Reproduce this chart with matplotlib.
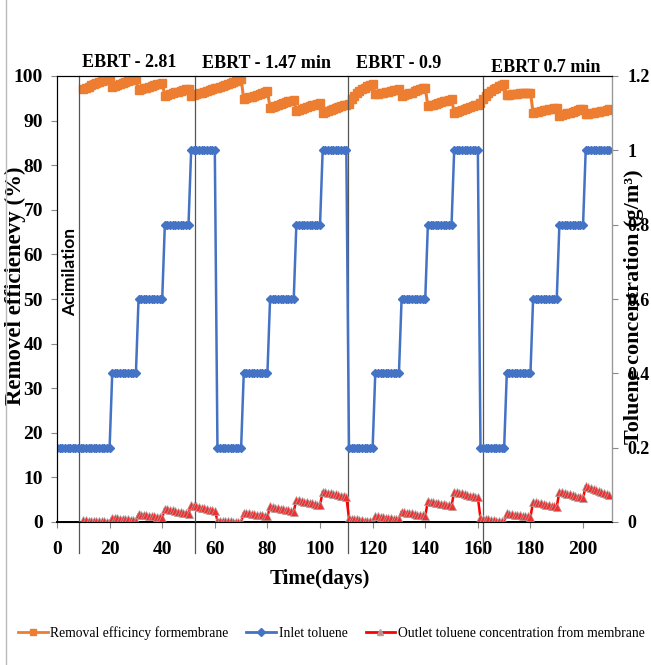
import numpy as np
import matplotlib
matplotlib.use("Agg")
import matplotlib.pyplot as plt
from matplotlib.lines import Line2D

# ---- data ----
# inlet toluene (g/m3), one level per block, days 0-210
inlet_levels = [0.2, 0.4, 0.6, 0.8, 1.0,
                0.2, 0.4, 0.6, 0.8, 1.0,
                0.2, 0.4, 0.6, 0.8, 1.0,
                0.2, 0.4, 0.6, 0.8, 1.0]
inlet_block_days = [21] + [10] * 19
inlet_days = np.arange(0, 211)

# removal efficiency (%), daily values for days 10-210
eff_days = np.arange(10, 211)
removal_eff = [
    97.0, 97.3, 97.6, 97.9, 98.1, 98.4, 98.6, 98.8, 99.0, 99.2, 99.3,
    97.5, 97.8, 98.0, 98.3, 98.5, 98.7, 98.9, 99.0, 99.2, 99.3,
    96.8, 97.0, 97.2, 97.4, 97.6, 97.8, 97.9, 98.1, 98.2, 98.4,
    95.6, 95.8, 96.0, 96.2, 96.4, 96.5, 96.7, 96.8, 97.0, 97.1,
    95.5, 95.7, 95.9, 96.1, 96.3, 96.5, 96.7, 96.9, 97.1, 97.3,
    97.4, 97.6, 97.8, 98.0, 98.3, 98.5, 98.7, 98.9, 99.1, 99.3,
    94.8, 95.0, 95.2, 95.4, 95.6, 95.8, 96.0, 96.2, 96.4, 96.6,
    92.9, 93.1, 93.3, 93.5, 93.7, 93.9, 94.1, 94.3, 94.5, 94.7,
    92.2, 92.4, 92.6, 92.8, 93.0, 93.2, 93.4, 93.6, 93.8, 94.0,
    91.8, 92.0, 92.2, 92.4, 92.6, 92.8, 93.0, 93.2, 93.4, 93.6,
    93.8, 94.8, 95.6, 96.2, 96.7, 97.1, 97.4, 97.7, 97.9, 98.1,
    95.9, 96.0, 96.1, 96.3, 96.4, 96.5, 96.6, 96.8, 96.9, 97.0,
    95.5, 95.7, 95.9, 96.1, 96.3, 96.6, 96.8, 97.0, 97.2, 97.4,
    93.3, 93.5, 93.6, 93.8, 93.9, 94.1, 94.3, 94.4, 94.6, 94.8,
    91.8, 92.0, 92.2, 92.4, 92.6, 92.8, 93.0, 93.2, 93.4, 93.6,
    94.0, 94.9, 95.6, 96.2, 96.7, 97.0, 97.4, 97.7, 97.9, 98.1,
    95.7, 95.8, 95.9, 96.0, 96.0, 96.1, 96.2, 96.2, 96.3, 96.3,
    91.8, 91.9, 92.0, 92.2, 92.3, 92.4, 92.5, 92.6, 92.8, 92.9,
    91.0, 91.2, 91.4, 91.6, 91.8, 92.0, 92.2, 92.3, 92.5, 92.7,
    91.4, 91.5, 91.6, 91.8, 91.9, 92.0, 92.1, 92.2, 92.4, 92.5,
]

# outlet toluene (g/m3), daily values for days 10-210
outlet_conc = [
    0.005, 0.005, 0.004, 0.004, 0.003, 0.003, 0.003, 0.002, 0.002, 0.001, 0.001,
    0.012, 0.011, 0.010, 0.009, 0.008, 0.008, 0.007, 0.006, 0.005, 0.004,
    0.021, 0.020, 0.019, 0.018, 0.017, 0.016, 0.015, 0.014, 0.013, 0.012,
    0.036, 0.034, 0.033, 0.031, 0.030, 0.028, 0.027, 0.025, 0.024, 0.022,
    0.045, 0.043, 0.042, 0.040, 0.038, 0.037, 0.035, 0.033, 0.032, 0.030,
    0.004, 0.004, 0.003, 0.003, 0.002, 0.002, 0.001, 0.001, 0.000, 0.000,
    0.025, 0.024, 0.023, 0.022, 0.021, 0.020, 0.019, 0.018, 0.016, 0.015,
    0.042, 0.040, 0.039, 0.037, 0.036, 0.034, 0.033, 0.031, 0.030, 0.028,
    0.060, 0.058, 0.057, 0.055, 0.053, 0.052, 0.050, 0.048, 0.047, 0.045,
    0.082, 0.080, 0.079, 0.077, 0.076, 0.074, 0.073, 0.071, 0.070, 0.068,
    0.010, 0.009, 0.008, 0.007, 0.006, 0.005, 0.004, 0.003, 0.002, 0.001,
    0.016, 0.015, 0.014, 0.013, 0.012, 0.011, 0.010, 0.009, 0.008, 0.007,
    0.028, 0.027, 0.025, 0.024, 0.023, 0.022, 0.020, 0.019, 0.018, 0.016,
    0.057, 0.055, 0.054, 0.052, 0.051, 0.049, 0.048, 0.046, 0.045, 0.043,
    0.082, 0.080, 0.078, 0.077, 0.075, 0.073, 0.071, 0.070, 0.068, 0.066,
    0.010, 0.009, 0.008, 0.007, 0.006, 0.005, 0.004, 0.003, 0.002, 0.001,
    0.023, 0.022, 0.021, 0.020, 0.019, 0.018, 0.017, 0.016, 0.015, 0.014,
    0.054, 0.053, 0.051, 0.050, 0.048, 0.047, 0.046, 0.044, 0.043, 0.041,
    0.082, 0.080, 0.078, 0.076, 0.074, 0.072, 0.070, 0.068, 0.066, 0.064,
    0.097, 0.094, 0.091, 0.089, 0.086, 0.083, 0.081, 0.078, 0.076, 0.073,
]

phase_lines = [8.4, 52.4, 110.8, 162]
phase_labels = ["EBRT - 2.81", "EBRT - 1.47 min", "EBRT - 0.9", "EBRT 0.7 min"]
phase_label_x = [27.6, 79.8, 129.8, 185.8]
phase_label_y = [1.031, 1.027, 1.029, 1.018]

inlet_conc = np.repeat(inlet_levels, inlet_block_days)

c_orange = "#ED7D31"
c_blue = "#4472C4"
c_red = "#FF0000"
serif = "Liberation Serif"

fig = plt.figure(figsize=(6.51, 6.65), dpi=100)
ax = fig.add_axes([57 / 651, 1 - 522 / 665, 555 / 651, 446 / 665])
ax2 = ax.twinx()

ax.plot(eff_days, removal_eff, color=c_orange, lw=2.2, marker="s", ms=5.5,
        mec=c_orange, mfc=c_orange)
ax2.plot(inlet_days, inlet_conc, color=c_blue, lw=1.8, marker="D", ms=4.5,
         mec=c_blue, mfc=c_blue)
ax2.plot(eff_days, outlet_conc, color=c_red, lw=1.8, marker="^", ms=6,
         mfc="#F03030", mec="#B0A0A0", mew=0.5)

ax.set_xlim(0, 211)
ax.set_ylim(0, 100)
ax2.set_ylim(0, 1.2)
ax.set_xticks(np.arange(0, 201, 20))
ax.set_yticks(np.arange(0, 101, 10))
ax2.set_yticks(np.arange(0, 1.21, 0.2))
ax2.set_yticklabels(["0", "0.2", "0.4", "0.6", "0.8", "1", "1.2"])

for lbl in ax.get_xticklabels() + ax.get_yticklabels():
    lbl.set_fontfamily(serif)
    lbl.set_fontweight("bold")
    lbl.set_fontsize(14)
for lbl in ax2.get_yticklabels():
    lbl.set_fontfamily(serif)
    lbl.set_fontweight("bold")
    lbl.set_fontsize(13)

ax.tick_params(axis="x", length=4, color="#888888", pad=10)
ax.tick_params(axis="y", length=4, color="#888888", pad=6)
ax2.tick_params(axis="y", length=4, color="#888888", pad=7)

ax.spines["left"].set_color("black")
ax.spines["bottom"].set_color("black")
ax.spines["bottom"].set_linewidth(1.4)
ax.spines["top"].set_color("black")
ax2.spines["right"].set_color("#999999")
ax2.spines["top"].set_color("black")

ax.set_xlabel("Time(days)", fontfamily=serif, fontweight="bold", fontsize=15)
ax.xaxis.set_label_coords(0.474, -0.105)
ax.set_ylabel("Removel efficienevy (%)", fontfamily=serif, fontweight="bold", fontsize=16.5)
ax.yaxis.set_label_coords(-0.056, 0.53)
fig.text(634 / 651, 1 - 307 / 665, "Toluene concentration (g/m³)", rotation=90,
         ha="center", va="center", fontfamily=serif, fontweight="bold", fontsize=16)

# phase separators
for d in phase_lines:
    ax.plot([d, d], [1.0, -0.07], color="#555555", lw=0.9,
            transform=ax.get_xaxis_transform(), clip_on=False, zorder=5)

for x, y, t in zip(phase_label_x, phase_label_y, phase_labels):
    ax.text(x, y, t, transform=ax.get_xaxis_transform(), ha="center", va="center",
            fontfamily=serif, fontweight="bold", fontsize=13)

ax.text(4.9, 0.56, "Acimilation", transform=ax.get_xaxis_transform(), rotation=90,
        ha="center", va="center", fontfamily="Lato", fontweight="bold", fontsize=12.5)

# outer frame line on the left
fig.add_artist(Line2D([6 / 651, 6 / 651], [0, 1], color="#BBBBBB", lw=1))

handles = [
    Line2D([], [], color=c_orange, lw=2, marker="s", ms=5, mec=c_orange),
    Line2D([], [], color=c_blue, lw=2, marker="D", ms=4, mec=c_blue),
    Line2D([], [], color=c_red, lw=2, marker="^", ms=5, mfc="#D08080", mec="#B0A0A0"),
]
labels = ["Removal efficincy formembrane", "Inlet toluene",
          "Outlet toluene concentration from membrane"]
fig.legend(handles, labels, loc="center", bbox_to_anchor=(0.509, 1 - 633 / 665),
           ncol=3, frameon=False, handlelength=2.2, columnspacing=1.3,
           handletextpad=0.2, prop={"family": serif, "size": 9.8})

fig.savefig("out.png", dpi=100)
